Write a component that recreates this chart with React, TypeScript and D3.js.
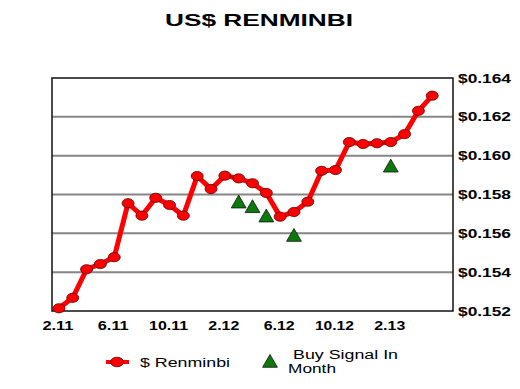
import React from "react";
import * as d3 from "d3";

const months = ["2.11","3.11","4.11","5.11","6.11","7.11","8.11","9.11","10.11","11.11","12.11","1.12","2.12","3.12","4.12","5.12","6.12","7.12","8.12","9.12","10.12","11.12","12.12","1.13","2.13","3.13","4.13","5.13","6.13"];
const tickLabels = ["2.11","6.11","10.11","2.12","6.12","10.12","2.13"];
const renminbi = [0.15214,0.15268,0.15415,0.15442,0.15477,0.15755,0.15691,0.15783,0.15746,0.15691,0.15895,0.15828,0.15897,0.15883,0.15858,0.15808,0.15686,0.1571,0.15763,0.15922,0.15926,0.1607,0.1606,0.16064,0.1607,0.16111,0.16231,0.16309];
const buyMonths = ["3.12","4.12","5.12","7.12","2.13"];
const buyValues = [0.15758,0.15734,0.15686,0.15586,0.15943];
const yTicks = [0.152,0.154,0.156,0.158,0.160,0.162,0.164];

const W = 520, H = 389;
const L = 52, R = 453, T = 78, B = 311;
const FONT = "'Liberation Sans', Arial, sans-serif";

export default function App() {
  const x = d3.scaleBand<string>().domain(months).range([L, R]);
  const cx = (m: string) => (x(m) as number) + x.bandwidth() / 2;
  const y = d3.scaleLinear().domain([0.152, 0.164]).range([B, T]);
  const line = d3.line<number>().x((_, i) => cx(months[i])).y((v) => y(v));
  const tri = d3.symbol().type(d3.symbolTriangle).size(95);

  return (
    <svg width={W} height={H} style={{ position: "absolute", left: 0, top: 0 }}>
      <rect x={0} y={0} width={W} height={H} fill="#fff" />
      <text x={259} y={26} textAnchor="middle" fontFamily={FONT} fontWeight="bold" fontSize={16.5}
        textLength={188} lengthAdjust="spacingAndGlyphs">US$ RENMINBI</text>
      <rect x={L} y={T} width={R - L} height={B - T} fill="#fff" />
      {yTicks.slice(1, -1).map((t) => (
        <line key={t} x1={L} x2={R} y1={y(t)} y2={y(t)} stroke="#858585" strokeWidth={2} />
      ))}
      <rect x={L} y={T} width={R - L} height={B - T} fill="none" stroke="#111" strokeWidth={1.5} />
      {yTicks.map((t) => (
        <text key={t} x={458} y={y(t) + 4.5} fontFamily={FONT} fontWeight="bold" fontSize={12.5}
          textLength={53} lengthAdjust="spacingAndGlyphs">{"$" + t.toFixed(3)}</text>
      ))}
      {tickLabels.map((m) => (
        <text key={m} x={cx(m) - 1} y={330} textAnchor="middle" fontFamily={FONT} fontWeight="bold" fontSize={12}
          textLength={m.length === 4 ? 31 : 39} lengthAdjust="spacingAndGlyphs">{m}</text>
      ))}
      <path d={line(renminbi) || ""} fill="none" stroke="#ff0000" strokeWidth={5} strokeLinejoin="round" />
      {renminbi.map((v, i) => (
        <ellipse key={i} cx={cx(months[i])} cy={y(v)} rx={6} ry={4.6} fill="#ff0000" stroke="#5a0000" strokeWidth={0.8} />
      ))}
      {buyMonths.map((m, i) => (
        <path key={m} d={tri() || ""} transform={`translate(${cx(m)},${y(buyValues[i]) + 1})`} fill="#0a7a0a" stroke="#111" strokeWidth={0.8} />
      ))}
      {/* legend */}
      <line x1={106} x2={129} y1={362} y2={362} stroke="#ff0000" strokeWidth={4} />
      <ellipse cx={117} cy={362} rx={6.5} ry={4.8} fill="#ff0000" stroke="#5a0000" strokeWidth={0.8} />
      <text x={140} y={367} fontFamily={FONT} fontSize={13} textLength={90} lengthAdjust="spacingAndGlyphs">$ Renminbi</text>
      <path d={tri() || ""} transform={`translate(270,363)`} fill="#0a7a0a" stroke="#111" strokeWidth={0.8} />
      <text x={293} y={359} fontFamily={FONT} fontSize={12} textLength={105} lengthAdjust="spacingAndGlyphs">Buy Signal In</text>
      <text x={288} y={373} fontFamily={FONT} fontSize={12} textLength={48} lengthAdjust="spacingAndGlyphs">Month</text>
    </svg>
  );
}
